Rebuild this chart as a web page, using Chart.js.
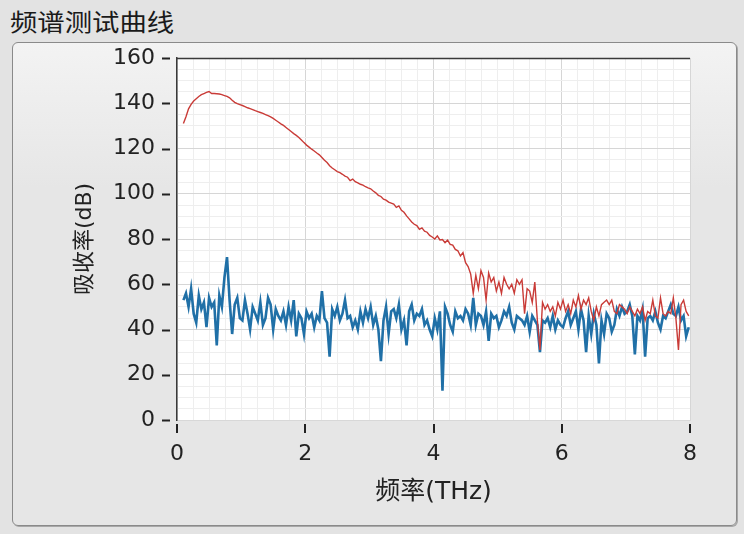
<!DOCTYPE html>
<html>
<head>
<meta charset="utf-8">
<script src="https://cdn.jsdelivr.net/npm/chart.js@4.4.0/dist/chart.umd.min.js"></script>
<style>
  html, body { margin: 0; padding: 0; background: #e3e3e3; }
  #wrap { position: relative; width: 744px; height: 534px; overflow: hidden; }
  #title {
    position: absolute; left: 10px; top: 3px;
    font: 24px "Noto Sans CJK SC", sans-serif; color: #1a1a1a;
    transform: scaleX(1.14); transform-origin: left top;
  }
  #panel {
    position: absolute; left: 12px; top: 42px; width: 723px; height: 482px;
    border: 1px solid #8a8a8a; border-radius: 6px;
    background: linear-gradient(#f3f3f3, #e6e6e6 30%, #e6e6e6);
    box-shadow: 1px 1px 0 #a8a8a8;
  }
  #chart { position: absolute; left: 0; top: 0; }
</style>
</head>
<body>
<div id="wrap">
  <div id="title">频谱测试曲线</div>
  <div id="panel"></div>
  <canvas id="chart" width="744" height="534"></canvas>
</div>
<script>
// sampling grid of the measurement (THz)
const freqStart = 0.1;
const freqStep = 0.04;

// absorption, upper (red) trace, dB
const redValues = [
    131, 134, 137.5, 139.5, 141, 142, 143, 143.8, 144.3, 144.8,
    145.2, 144.3, 144.3, 144.2, 144.1, 143.8, 143.4, 143, 142.4, 141.3,
    140.4, 139.8, 139.4, 139, 138.5, 138, 137.6, 137.2, 136.7, 136.3,
    135.9, 135.5, 135, 134.5, 134, 133.3, 132.5, 131.7, 130.9, 130.2,
    129.3, 128.4, 127.5, 126.6, 125.8, 124.9, 123.8, 122.6, 121.5, 120.6,
    119.7, 118.9, 118, 117.2, 116, 114.8, 113.8, 112.4, 111.4, 110.6,
    109.8, 109.3, 108.6, 107.8, 107.3, 105.8, 106.5, 105.3, 104.8, 104.2,
    103.8, 103.1, 102.6, 102.2, 101.2, 100.4, 99.3, 98.8, 97.6, 97.2,
    96.3, 95.9, 95.4, 94, 94.6, 92.7, 91.8, 90.2, 88.9, 87.5,
    86.5, 85.9, 84.3, 84.9, 83.5, 83, 81.6, 80.9, 80, 81.4,
    79.6, 79.8, 78.4, 79.5, 77.6, 77.3, 75.4, 74.8, 72.5, 74,
    69.5, 67.8, 64.5, 56, 64, 58, 66, 63, 53, 65,
    61, 63, 57, 61, 56, 63, 60, 58, 60, 56,
    62, 60, 62, 47, 58, 57, 52, 61, 44, 31,
    52, 49, 51, 48, 50, 46, 52, 49, 53, 48,
    51, 47, 53, 50, 55, 49, 53, 51, 54, 48,
    44, 50, 46, 51, 52, 53, 51, 53, 48, 47,
    51, 50, 49, 47, 50, 48, 46, 49, 47, 50,
    44, 48, 47, 53, 46, 45, 54, 47, 46, 48,
    47, 54, 45, 31, 51, 53, 48, 46
];

// absorption, lower (blue) trace, dB
const blueValues = [
    53, 56, 50, 58, 47, 43, 55, 49, 52, 41,
    54, 50, 52, 33, 55, 50, 63, 72, 53, 38,
    51, 54, 45, 44, 53, 47, 40, 50, 47, 44,
    52, 42, 45, 54, 51, 40, 49, 46, 44, 48,
    42, 50, 44, 53, 37, 47, 45, 38, 48, 45,
    47, 41, 46, 44, 57, 45, 43, 28, 49, 46,
    50, 44, 47, 53, 45, 46, 41, 44, 40, 48,
    43, 49, 45, 50, 42, 46, 40, 26, 44, 50,
    38, 48, 49, 45, 51, 40, 44, 33, 48, 51,
    44, 47, 46, 49, 42, 44, 40, 37, 45, 40,
    48, 13, 50, 47, 42, 39, 48, 45, 46, 44,
    49, 47, 42, 54, 42, 47, 46, 42, 48, 35,
    47, 45, 46, 41, 44, 48, 46, 50, 43, 40,
    46, 45, 44, 42, 46, 39, 46, 44, 42, 30,
    44, 43, 45, 41, 46, 40, 44, 42, 41, 45,
    48, 42, 45, 48, 40, 49, 44, 30, 46, 38,
    47, 42, 25, 44, 38, 47, 45, 39, 42, 49,
    46, 50, 47, 48, 51, 46, 29, 46, 44, 49,
    28, 45, 46, 44, 48, 43, 40, 46, 45, 48,
    51, 47, 46, 50, 44, 46, 37, 41
];

// labelled ticks
const xTicks = [0, 2, 4, 6, 8];
const yTicks = [0, 20, 40, 60, 80, 100, 120, 140, 160];

const tickFont = '"DejaVu Sans", "Noto Sans CJK SC", sans-serif';

function toPoints(values) {
    return values.map((v, i) => ({ x: +(freqStart + i * freqStep).toFixed(2), y: v }));
}

// white plot area, frame and the short detached tick marks
const plotFrame = {
    id: 'plotFrame',
    beforeDraw(chart) {
        const a = chart.chartArea, ctx = chart.ctx;
        ctx.save();
        ctx.fillStyle = '#ffffff';
        ctx.fillRect(a.left, a.top, a.right - a.left, a.bottom - a.top);
        ctx.restore();
    },
    afterDraw(chart) {
        const a = chart.chartArea, ctx = chart.ctx;
        const xs = chart.scales.x, ys = chart.scales.y;
        ctx.save();
        ctx.strokeStyle = '#3a3a3a';
        ctx.lineWidth = 1.5;
        ctx.beginPath();
        ctx.moveTo(a.left, a.top + 0.5);
        ctx.lineTo(a.right, a.top + 0.5);
        ctx.stroke();
        ctx.lineWidth = 2;
        ctx.strokeStyle = '#222';
        yTicks.forEach(v => {
            const y = Math.round(ys.getPixelForValue(v)) + 0.5;
            ctx.beginPath();
            ctx.moveTo(a.left - 15, y);
            ctx.lineTo(a.left - 7, y);
            ctx.stroke();
        });
        xTicks.forEach(v => {
            const x = Math.round(xs.getPixelForValue(v));
            ctx.beginPath();
            ctx.moveTo(x, a.bottom + 4);
            ctx.lineTo(x, a.bottom + 13);
            ctx.stroke();
        });
        ctx.restore();
    }
};

document.addEventListener('DOMContentLoaded', function() {
    const canvas = document.getElementById('chart');

    new Chart(canvas, {
        type: 'line',
        data: {
            datasets: [{
                label: 'red',
                data: toPoints(redValues),
                borderColor: '#c93b37',
                borderWidth: 1.4,
                pointRadius: 0,
                tension: 0
            }, {
                label: 'blue',
                data: toPoints(blueValues),
                borderColor: '#2070a7',
                borderWidth: 2.6,
                pointRadius: 0,
                tension: 0
            }]
        },
        options: {
            responsive: false,
            animation: false,
            events: [],
            layout: {
                padding: { left: 72, top: 58, right: 54, bottom: 27 }
            },
            plugins: {
                legend: { display: false },
                tooltip: { enabled: false },
                title: { display: false }
            },
            scales: {
                x: {
                    type: 'linear',
                    min: 0,
                    max: 8,
                    afterFit: s => { s.height = 87; },
                    ticks: {
                        stepSize: 0.25,
                        autoSkip: false,
                        maxRotation: 0,
                        padding: 21,
                        color: '#222',
                        font: { family: tickFont, size: 22 },
                        callback: v => (xTicks.includes(v) ? String(v) : '')
                    },
                    grid: {
                        drawTicks: false,
                        color: c => (c.tick && xTicks.includes(c.tick.value) ? '#d6d6d6' : '#eeeeee'),
                        lineWidth: 1
                    },
                    border: { color: '#d8d8d8', width: 1 },
                    title: {
                        display: true,
                        text: '频率(THz)',
                        color: '#222',
                        padding: 0,
                        font: { family: tickFont, size: 25 }
                    }
                },
                y: {
                    min: 0,
                    max: 160,
                    afterFit: s => { s.width = 105; },
                    ticks: {
                        stepSize: 5,
                        autoSkip: false,
                        padding: 22,
                        color: '#222',
                        font: { family: tickFont, size: 22 },
                        callback: v => (yTicks.includes(v) ? String(v) : '')
                    },
                    grid: {
                        drawTicks: false,
                        color: c => (c.tick && yTicks.includes(c.tick.value) ? '#d6d6d6' : '#eeeeee'),
                        lineWidth: 1
                    },
                    border: { color: '#3a3a3a', width: 1.5 },
                    title: {
                        display: true,
                        text: '吸收率(dB)',
                        color: '#222',
                        padding: 0,
                        font: { family: tickFont, size: 22 }
                    }
                }
            }
        },
        plugins: [plotFrame]
    });
});
</script>
</body>
</html>
